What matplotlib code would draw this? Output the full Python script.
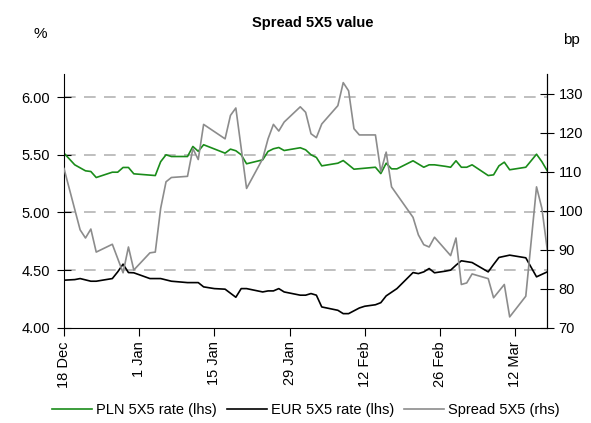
import datetime as dt
import matplotlib
matplotlib.use("Agg")
import matplotlib.pyplot as plt
import matplotlib.dates as mdates
from matplotlib.ticker import FormatStrFormatter

plt.rcParams['font.family'] = ['Liberation Sans', 'DejaVu Sans']

start = dt.date(2006, 12, 18)

# PLN 5X5 forward rate, % (day offset from 18 Dec, value)
pln_days = [0, 2, 4, 5, 6, 9, 10, 11, 12, 13, 17, 18, 19, 20, 23, 24, 25, 26, 30, 31,
            32, 33, 34, 37, 38, 39, 40, 41, 44, 45, 46, 47, 48, 51, 52, 53, 54, 58, 59, 60,
            61, 62, 65, 67, 68, 69, 71, 72, 73, 74, 75, 76, 79, 80, 81, 82, 83, 86, 88, 89, 90]
pln_vals = [5.514, 5.413, 5.361, 5.355, 5.303, 5.349, 5.349, 5.39, 5.39, 5.335, 5.32, 5.44,
            5.50, 5.485, 5.485, 5.572, 5.53, 5.587, 5.514, 5.549, 5.535, 5.50, 5.422, 5.456,
            5.529, 5.552, 5.563, 5.537, 5.561, 5.543, 5.50, 5.477, 5.404, 5.427, 5.45, 5.413,
            5.375, 5.392, 5.337, 5.427, 5.378, 5.378, 5.448, 5.392, 5.413, 5.413, 5.40, 5.392,
            5.448, 5.392, 5.392, 5.413, 5.32, 5.326, 5.404, 5.436, 5.37, 5.392, 5.505, 5.44, 5.361]

# EUR 5X5 forward rate, %
eur_days = [0, 2, 3, 5, 6, 9, 10, 11, 12, 13, 16, 18, 20, 23, 25, 26, 28, 30, 32, 33,
            34, 37, 38, 39, 40, 41, 44, 45, 46, 47, 48, 51, 52, 53, 55, 56, 58, 59, 60, 62,
            65, 66, 67, 68, 69, 71, 72, 73, 74, 76, 79, 80, 81, 83, 86, 88, 90]
eur_vals = [4.413, 4.418, 4.427, 4.404, 4.404, 4.427, 4.485, 4.552, 4.479, 4.477, 4.427,
            4.427, 4.404, 4.392, 4.392, 4.355, 4.34, 4.335, 4.265, 4.34, 4.34, 4.311, 4.32,
            4.32, 4.34, 4.311, 4.283, 4.283, 4.297, 4.283, 4.181, 4.152, 4.123, 4.123, 4.172,
            4.187, 4.20, 4.218, 4.277, 4.34, 4.479, 4.47, 4.485, 4.514, 4.477, 4.491, 4.50,
            4.543, 4.581, 4.566, 4.485, 4.549, 4.61, 4.63, 4.607, 4.442, 4.485]

# Spread 5X5, bp
spr_days = [0, 3, 4, 5, 6, 9, 11, 12, 13, 16, 17, 18, 19, 20, 23, 24, 25, 26, 30, 31,
            32, 34, 37, 38, 39, 40, 41, 44, 45, 46, 47, 48, 51, 52, 53, 54, 55, 58, 59, 60,
            61, 65, 66, 67, 68, 69, 72, 73, 74, 75, 76, 79, 80, 82, 83, 86, 88, 89, 90]
spr_vals = [110.8, 95.1, 93.0, 95.3, 89.4, 91.4, 84.1, 90.7, 84.8, 89.2, 89.4, 100.6,
            107.4, 108.5, 108.8, 115.9, 113.1, 122.1, 118.4, 124.4, 126.3, 105.7, 113.3,
            118.4, 122.1, 120.4, 122.7, 126.6, 125.2, 119.7, 118.7, 122.2, 126.9, 132.8,
            130.7, 121.0, 119.4, 119.4, 110.0, 115.0, 106.1, 98.3, 93.8, 91.3, 90.7, 93.2,
            88.5, 93.0, 81.1, 81.5, 83.8, 82.6, 77.7, 81.1, 72.8, 78.1, 106.1, 100.6, 90.0]

tick_days = [0, 14, 28, 42, 56, 70, 84]


def to_dates(days):
    return [start + dt.timedelta(days=d) for d in days]


fig = plt.figure(figsize=(5.91, 4.23), dpi=100)
ax = fig.add_axes([0.1083, 0.225, 0.8177, 0.600])
ax2 = ax.twinx()

l1, = ax.plot(to_dates(pln_days), pln_vals, color='#1a8c1a', lw=1.2, label='PLN 5X5 rate (lhs)')
l2, = ax.plot(to_dates(eur_days), eur_vals, color='black', lw=1.2, label='EUR 5X5 rate (lhs)')
l3, = ax2.plot(to_dates(spr_days), spr_vals, color='#8c8c8c', lw=1.2, label='Spread 5X5 (rhs)')

ax.set_ylim(4.0, 6.2)
ax.set_yticks([4.0, 4.5, 5.0, 5.5, 6.0])
ax.yaxis.set_major_formatter(FormatStrFormatter('%.2f'))
ax2.set_ylim(70, 135)
ax2.set_yticks([70, 80, 90, 100, 110, 120, 130])

ax.set_xlim(start, start + dt.timedelta(days=90))
ax.set_xticks(to_dates(tick_days))
ax.xaxis.set_major_formatter(mdates.DateFormatter('%-d %b'))
plt.setp(ax.get_xticklabels(), rotation=90)

for y in [4.5, 5.0, 5.5, 6.0]:
    ax.axhline(y, color='#b4b4b4', lw=1.2, dashes=(7, 5), zorder=0)

for a in (ax, ax2):
    a.spines['top'].set_visible(False)
ax2.spines['bottom'].set_visible(False)
ax2.spines['left'].set_visible(False)

ax.tick_params(axis='y', direction='inout', length=10, pad=5, labelsize=10.5)
ax.tick_params(axis='x', direction='out', length=6, labelsize=10.5)
ax2.tick_params(axis='y', direction='inout', length=10, pad=3, labelsize=10.5)

fig.text(0.53, 0.945, 'Spread 5X5 value', ha='center', va='center', fontsize=10.5, fontweight='bold')
fig.text(0.068, 0.92, '%', ha='center', va='center', fontsize=11)
fig.text(0.967, 0.905, 'bp', ha='center', va='center', fontsize=11)

fig.legend(handles=[l1, l2, l3], loc='center', bbox_to_anchor=(0.518, 0.03), ncol=3,
           frameon=False, fontsize=10.5, handlelength=2.7, columnspacing=0.7, handletextpad=0.3)

fig.savefig('out.png', dpi=100)
